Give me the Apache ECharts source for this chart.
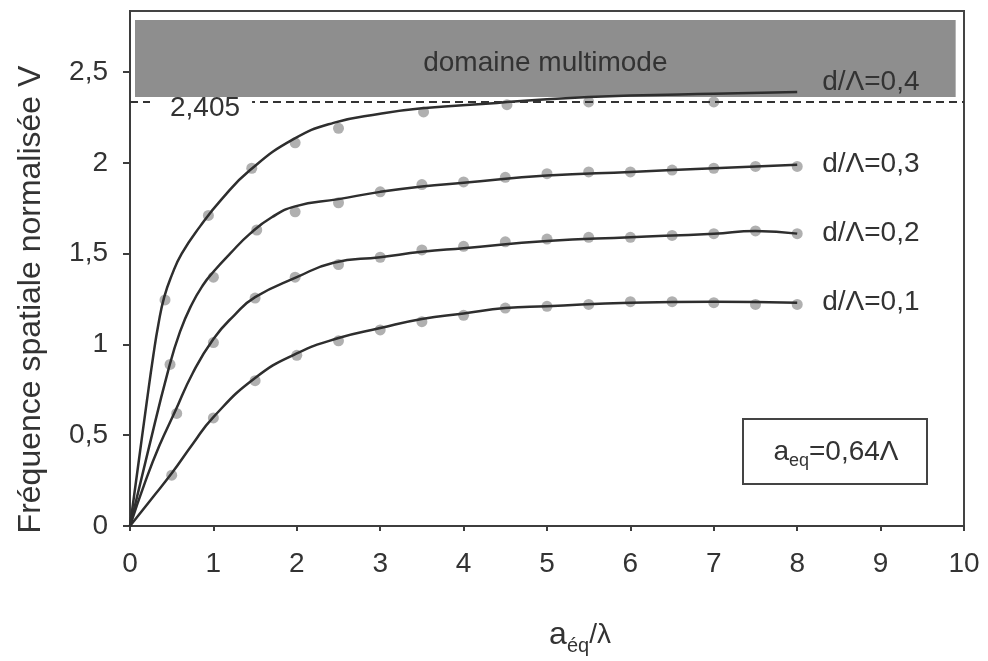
<!DOCTYPE html>
<html>
<head>
<meta charset="utf-8">
<script src="https://cdn.jsdelivr.net/npm/echarts@6/dist/echarts.min.js"></script>
<style>
  html, body { margin: 0; padding: 0; background: #fff; }
  #main { width: 988px; height: 661px; }
</style>
</head>
<body>
<div id="main"></div>
<script>
// courbes continues
const line01X = [0, 0.25, 0.5, 0.75, 1, 1.5, 2, 2.5, 3, 3.5, 4, 4.5, 5, 6, 7, 8];
const line01V = [0, 0.145, 0.29, 0.45, 0.6, 0.815, 0.95, 1.035, 1.09, 1.14, 1.17, 1.2, 1.21, 1.23, 1.235, 1.23];

const line02X = [0, 0.18, 0.35, 0.54, 0.75, 1, 1.25, 1.5, 2, 2.44, 3, 3.5, 4, 5, 6, 7, 7.5, 8];
const line02V = [0, 0.24, 0.44, 0.63, 0.84, 1.03, 1.16, 1.26, 1.37, 1.45, 1.48, 1.51, 1.53, 1.57, 1.59, 1.61, 1.625, 1.61];

const line03X = [0, 0.21, 0.46, 0.6, 0.74, 0.88, 1, 1.2, 1.44, 1.7, 1.98, 2.5, 3, 3.5, 4, 5, 6, 7, 8];
const line03V = [0, 0.4, 0.86, 1.07, 1.22, 1.33, 1.4, 1.5, 1.61, 1.7, 1.76, 1.8, 1.84, 1.87, 1.89, 1.93, 1.95, 1.97, 1.99];

const line04X = [0, 0.1, 0.2, 0.28, 0.34, 0.41, 0.5, 0.62, 0.84, 1.1, 1.44, 1.96, 2.44, 3, 3.5, 4.4, 5, 6, 7, 8];
const line04V = [0, 0.34, 0.68, 0.94, 1.11, 1.26, 1.38, 1.5, 1.65, 1.8, 1.96, 2.13, 2.22, 2.27, 2.3, 2.33, 2.35, 2.37, 2.38, 2.39];

// points (autre méthode)
const dot01X = [0.5, 1, 1.5, 2, 2.5, 3, 3.5, 4, 4.5, 5, 5.5, 6, 6.5, 7, 7.5, 8];
const dot01V = [0.28, 0.595, 0.8, 0.94, 1.02, 1.08, 1.125, 1.16, 1.2, 1.21, 1.22, 1.235, 1.235, 1.23, 1.22, 1.22];

const dot02X = [0.56, 1, 1.5, 1.98, 2.5, 3, 3.5, 4, 4.5, 5, 5.5, 6, 6.5, 7, 7.5, 8];
const dot02V = [0.62, 1.01, 1.255, 1.37, 1.44, 1.48, 1.52, 1.54, 1.565, 1.58, 1.59, 1.59, 1.6, 1.61, 1.625, 1.61];

const dot03X = [0.48, 1, 1.52, 1.98, 2.5, 3, 3.5, 4, 4.5, 5, 5.5, 6, 6.5, 7, 7.5, 8];
const dot03V = [0.89, 1.37, 1.63, 1.73, 1.78, 1.84, 1.88, 1.895, 1.92, 1.94, 1.95, 1.95, 1.96, 1.97, 1.98, 1.98];

const dot04X = [0.42, 0.94, 1.46, 1.98, 2.5, 3.52, 4.52, 5.5, 7];
const dot04V = [1.245, 1.71, 1.97, 2.11, 2.19, 2.28, 2.32, 2.335, 2.335];

const curveNames = ['d/Λ=0,1', 'd/Λ=0,2', 'd/Λ=0,3', 'd/Λ=0,4'];
const yTicks = [0, 0.5, 1, 1.5, 2, 2.5];

// limite monomode et zone multimode
const cutoffV = 2.335;
const cutoffLabel = '2,405';
const multimodeX = [0.06, 9.9];
const multimodeV = [2.362, 2.786];

const FONT = 'Liberation Sans, Arial, Helvetica, sans-serif';
const TXT = '#333';
const AX = '#3d3d3d';

function pairs(xs, vs) {
  return xs.map((x, i) => [x, vs[i]]);
}

const lines = [pairs(line01X, line01V), pairs(line02X, line02V), pairs(line03X, line03V), pairs(line04X, line04V)];
const dots = [pairs(dot01X, dot01V), pairs(dot02X, dot02V), pairs(dot03X, dot03V), pairs(dot04X, dot04V)];

const series = [];
dots.forEach((d, i) => {
  series.push({
    type: 'scatter',
    data: d,
    symbolSize: 11,
    itemStyle: { color: '#9c9c9c' },
    z: 2,
    silent: true
  });
});
lines.forEach((d, i) => {
  const s = {
    type: 'line',
    name: curveNames[i],
    data: d,
    showSymbol: false,
    smooth: 0.5,
    lineStyle: { color: '#2e2e2e', width: 2.5 },
    z: 3,
    silent: true,
    endLabel: {
      show: true,
      formatter: curveNames[i],
      distance: 25,
      offset: i === 3 ? [0, -10] : [0, 0],
      fontSize: 28,
      fontFamily: FONT,
      color: TXT
    }
  };
  if (i === 3) {
    s.markArea = {
      silent: true,
      itemStyle: { color: '#8e8e8e' },
      label: {
        show: true,
        position: 'inside',
        offset: [0, 5],
        fontSize: 28,
        fontFamily: FONT,
        color: TXT
      },
      data: [[
        { name: 'domaine multimode', coord: [multimodeX[0], multimodeV[0]] },
        { coord: [multimodeX[1], multimodeV[1]] }
      ]]
    };
    s.markLine = {
      silent: true,
      symbol: ['none', 'none'],
      lineStyle: { color: '#333', width: 2, type: [8, 5] },
      label: {
        show: true,
        position: 'insideStartBottom',
        distance: [20, -5],
        formatter: cutoffLabel,
        backgroundColor: '#fff',
        padding: [0, 12, 0, 20],
        lineHeight: 22,
        fontSize: 28,
        fontFamily: FONT,
        color: TXT
      },
      data: [[{ coord: [0, cutoffV] }, { coord: [10, cutoffV] }]]
    };
  }
  series.push(s);
});

const option = {
  animation: false,
  grid: {
    left: 130,
    right: 24,
    top: 11,
    bottom: 135,
    show: true,
    borderColor: '#444',
    borderWidth: 2,
    outerBoundsMode: 'none'
  },
  xAxis: {
    type: 'value',
    min: 0,
    max: 10,
    interval: 1,
    splitLine: { show: false },
    axisLine: { show: true, lineStyle: { color: AX, width: 2 } },
    axisTick: { show: true, length: 5, lineStyle: { color: AX, width: 2 } },
    axisLabel: { fontSize: 28, fontFamily: FONT, color: TXT, margin: 24 },
    name: '{a|a}{s|éq}{b|/λ}',
    nameLocation: 'middle',
    nameGap: 92,
    nameTextStyle: {
      padding: [0, 0, 0, 66],
      rich: {
        a: { fontSize: 32, lineHeight: 34, fontFamily: FONT, color: TXT },
        s: { fontSize: 20, lineHeight: 20, padding: [22, 0, 0, 0], fontFamily: FONT, color: TXT },
        b: { fontSize: 28, lineHeight: 34, fontFamily: FONT, color: TXT }
      }
    }
  },
  yAxis: {
    type: 'value',
    min: 0,
    max: 2.836,
    interval: 0.5,
    splitLine: { show: false },
    axisLine: { show: true, lineStyle: { color: AX, width: 2 } },
    axisTick: { show: true, length: 7, customValues: yTicks, lineStyle: { color: AX, width: 2 } },
    axisLabel: {
      customValues: yTicks,
      fontSize: 28,
      fontFamily: FONT,
      color: TXT,
      margin: 22,
      padding: [10, 0, 0, 0],
      formatter: v => String(v).replace('.', ',')
    },
    name: 'Fréquence spatiale normalisée V',
    nameLocation: 'middle',
    nameRotate: 90,
    nameGap: 83,
    nameTextStyle: {
      fontSize: 32,
      fontFamily: FONT,
      color: TXT,
      padding: [0, 62, 0, 0]
    }
  },
  graphic: [
    {
      type: 'rect',
      shape: { x: 743, y: 419, width: 184, height: 65 },
      style: { fill: '#fff', stroke: '#444', lineWidth: 2 },
      z: 10
    },
    {
      type: 'text',
      x: 836,
      y: 452,
      z: 11,
      style: {
        text: '{a|a}{s|eq}{a|=0,64Λ}',
        align: 'center',
        verticalAlign: 'middle',
        fill: TXT,
        rich: {
          a: { fontSize: 28, lineHeight: 30, fontFamily: FONT, fill: TXT },
          s: { fontSize: 18, lineHeight: 18, padding: [19, 0, 0, 0], fontFamily: FONT, fill: TXT }
        }
      }
    }
  ],
  series: series
};

const chartDom = document.getElementById('main');
const myChart = echarts.init(chartDom);
myChart.setOption(option);
</script>
</body>
</html>
